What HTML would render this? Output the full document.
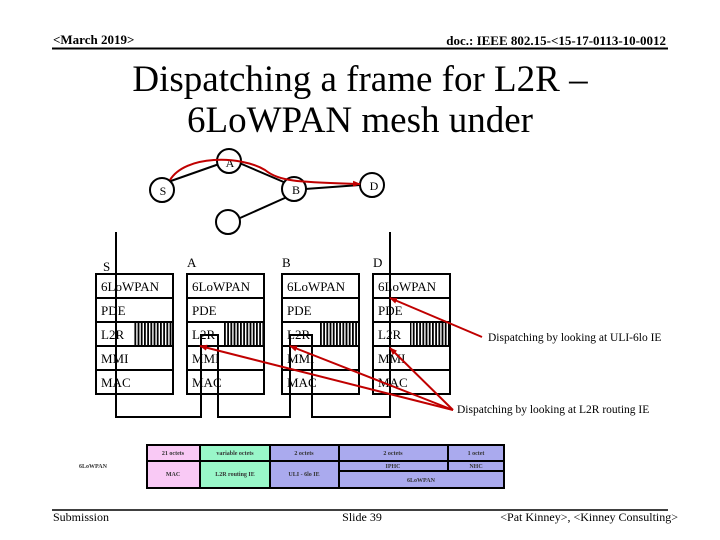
<!DOCTYPE html>
<html><head><meta charset="utf-8"><style>
html,body{margin:0;padding:0;background:#fff;}
svg{display:block;}
text{font-family:"Liberation Serif",serif;}
.s{font-family:"Liberation Sans",sans-serif;font-size:6px;font-weight:bold;fill:#333;}
</style></head><body>
<svg width="720" height="540" viewBox="0 0 720 540" xmlns="http://www.w3.org/2000/svg">
<defs>
<pattern id="h" width="3.2" height="10" patternUnits="userSpaceOnUse"><rect width="1.8" height="10" fill="#000"/></pattern>
<marker id="ar" markerWidth="8" markerHeight="8" refX="7" refY="4" orient="auto" markerUnits="userSpaceOnUse"><path d="M0,1 L8,4 L0,7 z" fill="#c00000"/></marker>
</defs>
<!-- header -->
<text x="53" y="44" font-size="13" font-weight="bold">&lt;March 2019&gt;</text>
<text x="666" y="45" font-size="13" font-weight="bold" text-anchor="end">doc.: IEEE 802.15-&lt;15-17-0113-10-0012</text>
<line x1="52" y1="48.5" x2="668" y2="48.5" stroke="#000" stroke-width="2"/>
<text x="360" y="91" font-size="37" text-anchor="middle">Dispatching a frame for L2R –</text>
<text x="360" y="132" font-size="37" text-anchor="middle">6LoWPAN mesh under</text>
<!-- graph -->
<g stroke="#000" stroke-width="2" fill="#fff">
<line x1="168" y1="182" x2="222" y2="163"/>
<line x1="237" y1="162" x2="286" y2="183"/>
<line x1="305" y1="189" x2="360" y2="185"/>
<line x1="240" y1="218" x2="287" y2="197"/>
<circle cx="162" cy="190" r="12"/>
<circle cx="229" cy="161" r="12"/>
<circle cx="294" cy="189" r="12"/>
<circle cx="372" cy="185" r="12"/>
<circle cx="228" cy="222" r="12"/>
</g>
<g font-size="12" text-anchor="middle">
<text x="163" y="195">S</text><text x="230" y="167">A</text><text x="296" y="194">B</text><text x="374" y="190">D</text>
</g>
<path d="M170,180 C185,155 240,155 265,170 C280,182 300,182 360,184" stroke="#c00000" stroke-width="2" fill="none" marker-end="url(#ar)"/>
<!-- stacks -->
<g font-size="13">
<text x="103" y="271">S</text><text x="187" y="267">A</text><text x="282" y="267">B</text><text x="373" y="267">D</text>
</g>
<g stroke="#000" stroke-width="2" fill="#fff">
<rect x="96" y="274" width="77" height="120"/>
<rect x="187" y="274" width="77" height="120"/>
<rect x="282" y="274" width="77" height="120"/>
<rect x="373" y="274" width="77" height="120"/>
</g>
<rect x="133" y="323" width="40" height="23" fill="url(#h)"/>
<rect x="224" y="323" width="40" height="23" fill="url(#h)"/>
<rect x="319" y="323" width="40" height="23" fill="url(#h)"/>
<rect x="410" y="323" width="40" height="23" fill="url(#h)"/>
<g stroke="#000" stroke-width="2">
<line x1="96" y1="298" x2="450" y2="298"/>
<line x1="96" y1="322" x2="450" y2="322"/>
<line x1="96" y1="346" x2="450" y2="346"/>
<line x1="96" y1="370" x2="450" y2="370"/>
</g>
<!-- gaps between stacks: erase lines -->
<rect x="174" y="290" width="12" height="90" fill="#fff"/>
<rect x="265" y="290" width="16" height="90" fill="#fff"/>
<rect x="360" y="290" width="12" height="90" fill="#fff"/>
<g font-size="13">
<text x="101" y="291">6LoWPAN</text><text x="192" y="291">6LoWPAN</text><text x="287" y="291">6LoWPAN</text><text x="378" y="291">6LoWPAN</text>
<text x="101" y="315">PDE</text><text x="192" y="315">PDE</text><text x="287" y="315">PDE</text><text x="378" y="315">PDE</text>
<text x="101" y="339">L2R</text><text x="192" y="339">L2R</text><text x="287" y="339">L2R</text><text x="378" y="339">L2R</text>
<text x="101" y="363">MMI</text><text x="192" y="363">MMI</text><text x="287" y="363">MMI</text><text x="378" y="363">MMI</text>
<text x="101" y="387">MAC</text><text x="192" y="387">MAC</text><text x="287" y="387">MAC</text><text x="378" y="387">MAC</text>
</g>
<path d="M116,232 V417 H201 V335 H218 V417 H290 V335 H312 V417 H390 V232" stroke="#000" stroke-width="2" fill="none"/>
<!-- red arrows -->
<g stroke="#c00000" stroke-width="2" fill="none" marker-end="url(#ar)">
<line x1="453" y1="410" x2="200" y2="346"/>
<line x1="453" y1="410" x2="290" y2="346"/>
<line x1="453" y1="410" x2="390" y2="348"/>
<line x1="482" y1="337" x2="390" y2="298"/>
</g>
<text x="488" y="341" font-size="11.5">Dispatching by looking at ULI-6lo IE</text>
<text x="457" y="413" font-size="11.5">Dispatching by looking at L2R routing IE</text>
<!-- frame table -->
<rect x="147" y="445" width="53" height="43" fill="#f9c9f5"/>
<rect x="200" y="445" width="70" height="43" fill="#99f7c9"/>
<rect x="270" y="445" width="234" height="43" fill="#aaaaee"/>
<g stroke="#000" stroke-width="2" fill="none">
<rect x="147" y="445" width="357" height="43"/>
<line x1="147" y1="461" x2="504" y2="461"/>
<line x1="339" y1="471" x2="504" y2="471"/>
<line x1="200" y1="445" x2="200" y2="488"/>
<line x1="270" y1="445" x2="270" y2="488"/>
<line x1="339" y1="445" x2="339" y2="488"/>
<line x1="448" y1="445" x2="448" y2="471"/>
</g>
<g class="s" text-anchor="middle">
<text x="173" y="455">21 octets</text><text x="235" y="455">variable octets</text><text x="304" y="455">2 octets</text><text x="393" y="455">2 octets</text><text x="476" y="455">1 octet</text>
<text x="173" y="476">MAC</text><text x="235" y="476">L2R routing IE</text><text x="304" y="476">ULI - 6lo IE</text>
<text x="393" y="468">IPHC</text><text x="476" y="468">NHC</text><text x="421" y="482">6LoWPAN</text>
<text x="93" y="468">6LoWPAN</text>
</g>
<!-- footer -->
<line x1="52" y1="510" x2="668" y2="510" stroke="#000" stroke-width="1.5"/>
<text x="53" y="521" font-size="12">Submission</text>
<text x="362" y="521" font-size="12" text-anchor="middle">Slide 39</text>
<text x="678" y="521" font-size="12" text-anchor="end">&lt;Pat Kinney&gt;, &lt;Kinney Consulting&gt;</text>
</svg>
</body></html>
